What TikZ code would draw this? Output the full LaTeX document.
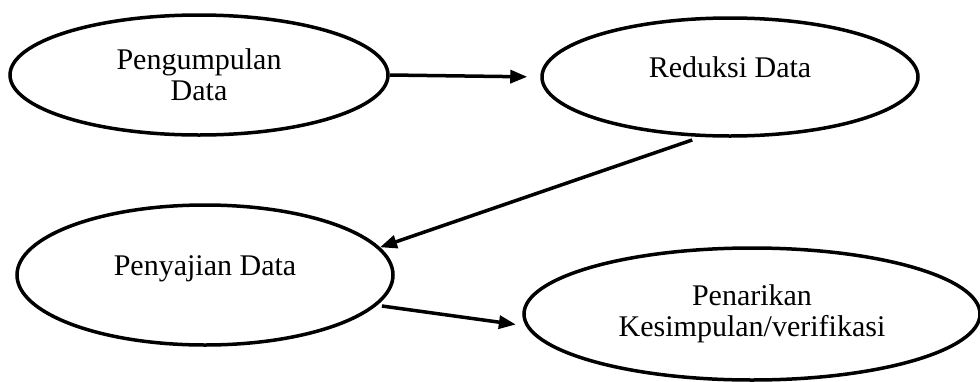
\documentclass[tikz,border=0pt]{standalone}
\usepackage{fontspec}
\setmainfont{Liberation Serif}
\usetikzlibrary{arrows.meta, shapes.geometric}

\begin{document}
\begin{tikzpicture}[x=1pt, y=-1pt,
  oval/.style={draw, ellipse, line width=3.5pt, inner sep=0pt, align=center,
    font=\fontsize{30}{31}\selectfont},
  oneline/.style={text height=0pt, text depth=0pt},
  flow/.style={line width=3.5pt, -{Triangle[length=17pt, width=13pt]}}]
\useasboundingbox (0,0) rectangle (980,381);
\node[oval, minimum width=378, minimum height=120] (pengumpulan) at (199,75) {Pengumpulan\\Data};
\node[oval, oneline, minimum width=376, minimum height=118] (reduksi) at (730,77) {Reduksi Data};
\node[oval, oneline, minimum width=376, minimum height=140] (penyajian) at (205,275) {Penyajian Data};
\node[oval, minimum width=456, minimum height=132] (penarikan) at (752,314) {Penarikan\\Kesimpulan/verifikasi};
\draw[flow, shorten >=13pt] (pengumpulan.east) -- (reduksi.west);
\draw[flow, shorten <=9pt] (reduksi.244) -- (penyajian.9);
\draw[flow, shorten <=5pt, shorten >=10pt] (penyajian.350) -- (penarikan.183);
\end{tikzpicture}
\end{document}
